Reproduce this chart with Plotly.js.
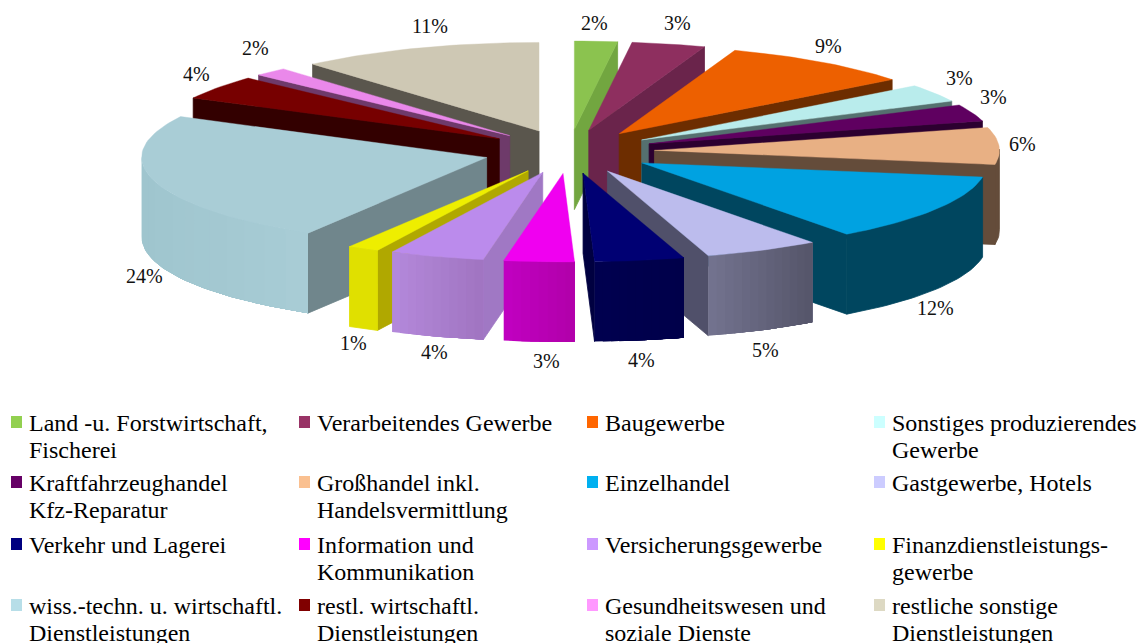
<!DOCTYPE html>
<html><head><meta charset="utf-8">
<script src="https://cdn.plot.ly/plotly-3.0.1.min.js"></script>
<style>html,body{margin:0;padding:0;background:#fff}#c{width:1139px;height:643px}</style>
</head><body><div id="c"></div>
<script>
// ---- data ----
const categories = [["Land -u. Forstwirtschaft,","Fischerei"],["Verarbeitendes Gewerbe"],["Baugewerbe"],["Sonstiges produzierendes","Gewerbe"],["Kraftfahrzeughandel","Kfz-Reparatur"],["Großhandel inkl.","Handelsvermittlung"],["Einzelhandel"],["Gastgewerbe, Hotels"],["Verkehr und Lagerei"],["Information und","Kommunikation"],["Versicherungsgewerbe"],["Finanzdienstleistungs-","gewerbe"],["wiss.-techn. u. wirtschaftl.","Dienstleistungen"],["restl. wirtschaftl.","Dienstleistungen"],["Gesundheitswesen und","soziale Dienste"],["restliche sonstige","Dienstleistungen"]];
const shares = [2.0,3.44,9.08,3.25,3.06,6.72,12.33,5.39,4.19,3.28,4.44,1.47,23.97,4.39,1.58,11.39];
const percentLabels = ["2%","3%","9%","3%","3%","6%","12%","5%","4%","3%","4%","1%","24%","4%","2%","11%"];

// ---- styles ----
const legendColors = ["#92d050","#993366","#ff6600","#ccffff","#660066","#fac090","#00b0f0","#ccccff","#000080","#ff00ff","#cc99ff","#ffff00","#b7dee8","#800000","#ff99ff","#ddd9c3"];
const topColors = ["#8bc34f","#8e2f5f","#ed6000","#b9ecec","#5f0060","#e8b084","#00a2e1","#bcbced","#000073","#f000f0","#bb8bec","#eeee00","#a9cdd6","#770000","#ea88ea","#cec8b4"];
const sideColors = ["#72a640","#6a244b","#6d2d00","#55706f","#2c0030","#644c3a","#00465f","#50506a","#000040","#b000a8","#a078c4","#b0a800","#70868c","#330000","#6e3a6a","#5a564d"];
const wallLeft = ["#72a640","#6a244b","#6d2d00","#55706f","#2c0030","#644c3a","#00465f","#72728e","#00004f","#c000c0","#b388da","#e0e000","#9fc5ce","#330000","#6e3a6a","#5a564d"];
const wallRight = ["#72a640","#6a244b","#6d2d00","#55706f","#2c0030","#644c3a","#00465f","#545468","#00004a","#b000a8","#9f73bf","#e0e000","#a9cdd6","#330000","#6e3a6a","#5a564d"];

// ---- geometry ----
const G = {cx:569, cy:151.5, rx:345, ry:88.5, e:0.248, h:80};
const rad = d => d*Math.PI/180;
const total = shares.reduce((a,b)=>a+b,0);
function pt(t, off){
  const o = G.e;
  return [G.cx + G.rx*(Math.sin(rad(off))*o + (t===null?0:Math.sin(rad(t)))),
          G.cy - G.ry*(Math.cos(rad(off))*o + (t===null?0:Math.cos(rad(t))))];
}
function hex(c){return [1,3,5].map(i=>parseInt(c.substr(i,2),16));}
function mix(a,b,f){const A=hex(a),B=hex(b);return 'rgb('+A.map((v,i)=>Math.round(v+(B[i]-v)*f)).join(',')+')';}
function poly(P,color,lw){
  return {type:'scatter',mode:'lines',x:P.map(p=>p[0]).concat(P[0][0]),y:P.map(p=>p[1]).concat(P[0][1]),
    fill:'toself',fillcolor:color,line:{color:color,width:lw},hoverinfo:'skip',showlegend:false};
}
let acc=0;
const slices = shares.map((v,i)=>{const a=acc/total*360;acc+=v;const b=acc/total*360;return {i,a,b,m:(a+b)/2};});
const order = slices.slice().sort((p,q)=>Math.cos(rad(q.m))-Math.cos(rad(p.m)));
const traces=[];
order.forEach(s=>{
  const tip = pt(null,s.m);
  const down = p=>[p[0],p[1]+G.h];
  const A = pt(s.a,s.m), B = pt(s.b,s.m);
  // radial walls, only when they face the viewer
  [[s.a,A,1],[s.b,B,-1]].forEach(([t,E,sg])=>{
    const dx=E[0]-tip[0], dy=E[1]-tip[1];
    const mx=sg*G.rx*Math.cos(rad(t)), my=sg*G.ry*Math.sin(rad(t));
    const c1=dx, c2=dx*my-dy*mx;
    if(c1*c2<0) traces.push(poly([tip,E,down(E),down(tip)],sideColors[s.i],0.8));
  });
  // outer wall, banded for the shading
  const n=Math.max(1,Math.ceil((s.b-s.a)/1.5));
  const xs=[];
  for(let k=0;k<=n;k++) xs.push(pt(s.a+(s.b-s.a)*k/n,s.m));
  const xmin=Math.min(...xs.map(p=>p[0])), xmax=Math.max(...xs.map(p=>p[0]));
  const front=[];
  for(let k=0;k<=n;k++){ if(Math.cos(rad(s.a+(s.b-s.a)*k/n))<0.03) front.push(xs[k]); }
  if(front.length>1){
    if(wallLeft[s.i]===wallRight[s.i]){
      traces.push(poly(front.concat(front.slice().reverse().map(down)),wallLeft[s.i],0.8));
    } else {
      // sweep from the left so each band overpaints the one before it without seams
      const sorted=front.slice().sort((p,q)=>p[0]-q[0]);
      const bands=Math.min(14,sorted.length-1);
      for(let b=0;b<bands;b++){
        const from=Math.floor(b*(sorted.length-1)/bands);
        const part=sorted.slice(from);
        const f=(sorted[from][0]-xmin)/Math.max(1,xmax-xmin);
        const c=mix(wallLeft[s.i],wallRight[s.i],f);
        traces.push(poly(part.concat(part.slice().reverse().map(down)),c,0));
      }
    }
  }
  // top face
  const top=[tip];
  for(let k=0;k<=n;k++) top.push(xs[k]);
  traces.push(poly(top,topColors[s.i],0.4));
});

// ---- legend and label placement ----
const legendCols=[11,299,587,874], legendRows=[423,483,545,606], lineGap=27;
const labelX=[594,677,828,959,993,1022,935,765,641,546,434,353,144,196,255,430];
const labelY=[23,23,46,78,97,144,308,350,360,361,352,343,276,74,48,26];
const font='"Liberation Serif","Times New Roman",serif';
const annotations=percentLabels.map((t,i)=>({x:labelX[i],y:labelY[i],text:t,showarrow:false,xanchor:'center',yanchor:'middle',font:{family:font,size:20,color:'#111'}}));
const shapes=[];
categories.forEach((lines,i)=>{
  const col=i%4,row=Math.floor(i/4),x=legendCols[col],y=legendRows[row];
  shapes.push({type:'rect',xref:'x',yref:'y',x0:x,x1:x+11,y0:y-7,y1:y+5,fillcolor:legendColors[i],line:{width:0}});
  lines.forEach((ln,j)=>annotations.push({x:x+16,y:y+j*lineGap,text:ln,showarrow:false,xanchor:'left',yanchor:'middle',align:'left',font:{family:font,size:24,color:'#000'}}));
});
Plotly.newPlot('c',traces,{
  width:1139,height:643,margin:{l:0,r:0,t:0,b:0},paper_bgcolor:'#fff',plot_bgcolor:'#fff',showlegend:false,
  xaxis:{range:[0,1139],visible:false,fixedrange:true},
  yaxis:{range:[643,0],visible:false,fixedrange:true},
  annotations,shapes
},{displayModeBar:false,staticPlot:true});
</script></body></html>
